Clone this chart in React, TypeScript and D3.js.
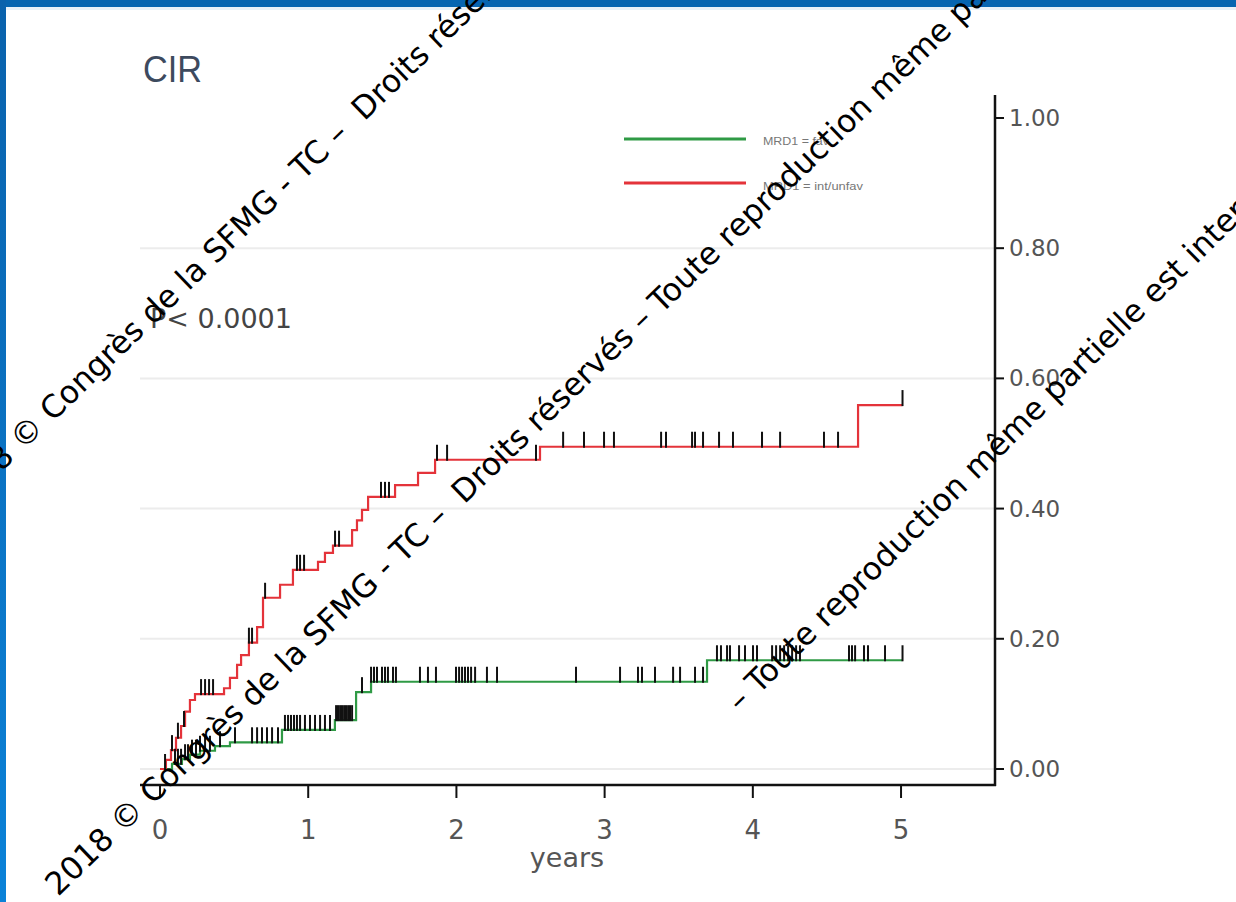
import React from "react";
import * as d3 from "d3";

// ---- data (years, cumulative incidence) ----
const redTimes = [0, 0.04, 0.074, 0.108, 0.142, 0.169, 0.202, 0.236, 0.432, 0.472, 0.52, 0.547, 0.6, 0.655, 0.695, 0.81, 0.897, 1.066, 1.113, 1.167, 1.296, 1.329, 1.363, 1.404, 1.586, 1.741, 1.856, 2.564, 4.71];
const redValues = [0, 0.014, 0.029, 0.048, 0.066, 0.088, 0.106, 0.115, 0.124, 0.14, 0.16, 0.175, 0.194, 0.218, 0.263, 0.283, 0.306, 0.318, 0.332, 0.343, 0.367, 0.382, 0.398, 0.418, 0.436, 0.455, 0.475, 0.495, 0.559];
const redEnd = 5.01;
const redCensors = [0.034, 0.081, 0.121, 0.162, 0.277, 0.304, 0.331, 0.358, 0.6, 0.621, 0.709, 0.924, 0.945, 0.972, 1.181, 1.208, 1.491, 1.518, 1.545, 1.869, 1.937, 2.537, 2.72, 2.861, 2.996, 3.063, 3.381, 3.414, 3.59, 3.61, 3.664, 3.772, 3.866, 4.062, 4.184, 4.48, 4.575, 5.01];

const greenTimes = [0, 0.081, 0.148, 0.202, 0.27, 0.371, 0.472, 0.823, 1.18, 1.323, 1.424, 3.691];
const greenValues = [0, 0.008, 0.015, 0.022, 0.028, 0.035, 0.041, 0.06, 0.075, 0.118, 0.134, 0.167];
const greenEnd = 5.01;
const greenCensors = [0.101, 0.121, 0.142, 0.169, 0.189, 0.216, 0.243, 0.27, 0.304, 0.337, 0.405, 0.506, 0.621, 0.655, 0.688, 0.722, 0.756, 0.796, 0.843, 0.864, 0.884, 0.904, 0.924, 0.945, 0.978, 1.012, 1.046, 1.08, 1.113, 1.147, 1.188, 1.201, 1.215, 1.228, 1.242, 1.255, 1.269, 1.282, 1.296, 1.363, 1.424, 1.444, 1.464, 1.498, 1.518, 1.538, 1.572, 1.592, 1.754, 1.808, 1.862, 1.997, 2.018, 2.038, 2.058, 2.078, 2.099, 2.126, 2.206, 2.274, 2.807, 3.104, 3.225, 3.252, 3.34, 3.462, 3.509, 3.61, 3.664, 3.758, 3.785, 3.826, 3.846, 3.907, 3.947, 4.001, 4.028, 4.13, 4.157, 4.184, 4.211, 4.238, 4.265, 4.292, 4.318, 4.649, 4.669, 4.69, 4.75, 4.777, 4.892, 5.01];

const xTicks = [0, 1, 2, 3, 4, 5];
const yTicks = [0, 0.2, 0.4, 0.6, 0.8, 1.0];
const gridValues = [0, 0.2, 0.4, 0.6, 0.8];
const legendLabels = ["MRD1 = fav", "MRD1 = int/unfav"];
const titleText = "CIR";
const pText = "P< 0.0001";
const xLabel = "years";
const watermarkFull = "2018 © Congrès de la SFMG - TC –  Droits réservés – Toute reproduction même partielle est interdite";
const watermarkPart = "– Toute reproduction même partielle est interdite";

const W = 1236;
const H = 902;
const RED = "#e4333a";
const GREEN = "#2f9a45";

const x = d3.scaleLinear().domain([-0.135, 5.634]).range([140, 995]);
const y = d3.scaleLinear().domain([-0.0246, 1.0353]).range([785, 95]);

function stepPoints(times: number[], values: number[], end: number): [number, number][] {
  const pts: [number, number][] = times.map((t, i) => [t, values[i]]);
  pts.push([end, values[values.length - 1]]);
  return pts;
}

function valueAt(times: number[], values: number[], t: number) {
  const i = d3.bisectRight(times, t) - 1;
  return values[Math.max(0, i)];
}

const line = d3
  .line<[number, number]>()
  .x((d) => x(d[0]))
  .y((d) => y(d[1]))
  .curve(d3.curveStepAfter);

export default function App() {
  const redPath = line(stepPoints(redTimes, redValues, redEnd)) || "";
  const greenPath = line(stepPoints(greenTimes, greenValues, greenEnd)) || "";
  const tickLen = 15;
  const wmStyle: React.CSSProperties = { whiteSpace: "pre" };
  return (
    <>
      <style>{"body{margin:0;} #root{width:1236px;height:902px;}"}</style>
      <svg width={W} height={H} style={{ display: "block", background: "#fff" }}>
        <defs>
          <linearGradient id="leftBar" x1="0" y1="0" x2="0" y2="1">
            <stop offset="0" stopColor="#0a62ac" />
            <stop offset="1" stopColor="#0b82d8" />
          </linearGradient>
        </defs>
        <rect x={0} y={0} width={W} height={H} fill="#ffffff" />
        {/* frame */}
        <rect x={0} y={0} width={W} height={7} fill="#0765b0" />
        <rect x={0} y={7} width={W} height={3} fill="#e9f1f8" />
        <rect x={0} y={0} width={6} height={H} fill="url(#leftBar)" />

        {/* title */}
        <text x={143} y={82} fontFamily="Liberation Sans, Arial, sans-serif" fontSize={37} fill="#3d4a5e" textLength={59} lengthAdjust="spacingAndGlyphs">
          {titleText}
        </text>

        {/* grid */}
        {gridValues.map((v) => (
          <line key={v} x1={140} x2={995} y1={y(v)} y2={y(v)} stroke="#ececec" strokeWidth={2} />
        ))}

        {/* P value */}
        <text x={150} y={318} dominantBaseline="central" fontFamily="DejaVu Sans, sans-serif" fontSize={27} fill="#444">
          {pText}
        </text>

        {/* legend */}
        <line x1={624} x2={746} y1={139} y2={139} stroke={GREEN} strokeWidth={3} />
        <line x1={624} x2={746} y1={183} y2={183} stroke={RED} strokeWidth={3} />
        <text x={763} y={141} dominantBaseline="central" fontFamily="Liberation Sans, Arial, sans-serif" fontSize={11} fill="#777" textLength={66} lengthAdjust="spacingAndGlyphs">
          {legendLabels[0]}
        </text>
        <text x={763} y={186} dominantBaseline="central" fontFamily="Liberation Sans, Arial, sans-serif" fontSize={11} fill="#777" textLength={100} lengthAdjust="spacingAndGlyphs">
          {legendLabels[1]}
        </text>

        {/* curves */}
        <path d={greenPath} fill="none" stroke={GREEN} strokeWidth={2.2} />
        <path d={redPath} fill="none" stroke={RED} strokeWidth={2.2} />

        {/* censor marks */}
        {greenCensors.map((t, i) => {
          const v = valueAt(greenTimes, greenValues, t);
          return <line key={"g" + i} x1={x(t)} x2={x(t)} y1={y(v) + 1} y2={y(v) - tickLen} stroke="#111" strokeWidth={2} />;
        })}
        {redCensors.map((t, i) => {
          const v = valueAt(redTimes, redValues, t);
          return <line key={"r" + i} x1={x(t)} x2={x(t)} y1={y(v) + 1} y2={y(v) - tickLen} stroke="#111" strokeWidth={2} />;
        })}

        {/* y axis (right) */}
        <line x1={995} x2={995} y1={95} y2={786} stroke="#111" strokeWidth={2.5} />
        {yTicks.map((v) => (
          <g key={v}>
            <line x1={995} x2={1004} y1={y(v)} y2={y(v)} stroke="#111" strokeWidth={2} />
            <text x={1009} y={y(v)} dominantBaseline="central" fontFamily="DejaVu Sans, sans-serif" fontSize={23} fill="#555">
              {d3.format(".2f")(v)}
            </text>
          </g>
        ))}

        {/* x axis */}
        <line x1={140} x2={996} y1={785} y2={785} stroke="#111" strokeWidth={2.5} />
        {xTicks.map((t) => (
          <g key={t}>
            <line x1={x(t)} x2={x(t)} y1={785} y2={798} stroke="#111" strokeWidth={2} />
            <text x={x(t)} y={830} textAnchor="middle" dominantBaseline="central" fontFamily="DejaVu Sans, sans-serif" fontSize={26} fill="#555">
              {t}
            </text>
          </g>
        ))}
        <text x={567} y={857} textAnchor="middle" dominantBaseline="central" fontFamily="DejaVu Sans, sans-serif" fontSize={27} fill="#555">
          {xLabel}
        </text>

        {/* watermark */}
        <g fontFamily="DejaVu Sans, sans-serif" fontSize={31.5} fill="#000">
          <text transform="translate(-42,514) rotate(-44)" style={wmStyle}>{watermarkFull}</text>
          <text transform="translate(58,897) rotate(-44)" style={wmStyle}>{watermarkFull}</text>
          <text transform="translate(740,713) rotate(-44.5)" style={wmStyle}>{watermarkPart}</text>
        </g>
      </svg>
    </>
  );
}
